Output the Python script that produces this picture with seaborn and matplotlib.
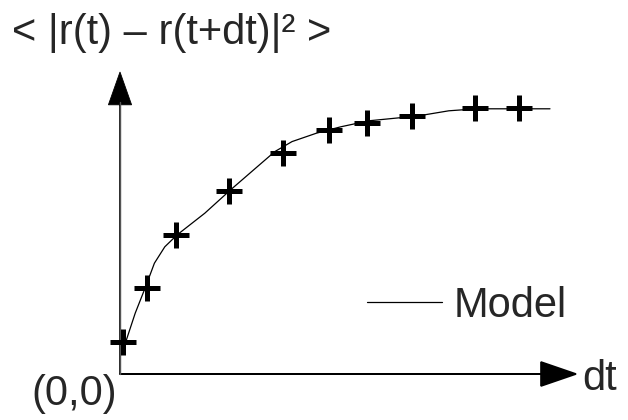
import numpy as np
import pandas as pd
import matplotlib
matplotlib.use("Agg")
import matplotlib.pyplot as plt
import seaborn as sns

obs_dt = [0.08, 0.68, 1.40, 2.72, 4.08, 5.22, 6.18, 7.30, 8.88, 9.98]
obs_msd = [0.80, 2.15, 3.48, 4.58, 5.52, 6.10, 6.28, 6.45, 6.65, 6.65]

model_dt = [0.05, 0.38, 0.64, 0.86, 1.12, 1.43, 2.12, 2.76, 3.43, 3.87,
            4.30, 4.91, 5.52, 6.22, 7.44, 8.22, 8.92, 10.75]
model_msd = [0.52, 1.52, 2.18, 2.77, 3.18, 3.48, 4.02, 4.60, 5.18, 5.56,
             5.81, 6.02, 6.18, 6.33, 6.45, 6.58, 6.63, 6.63]

W, H = 628, 420

def px(x, y):
    # pixel position -> figure fraction
    return x / W, 1 - y / H

sns.set_style("white")
plt.rcParams['font.family'] = ['Liberation Sans', 'DejaVu Sans']

fig = plt.figure(figsize=(W / 100, H / 100), dpi=100)
ax = fig.add_axes([0, 0, 1, 1])
# 40 px per data unit, origin at pixel (120, 374)
ax.set_xlim(-120 / 40, (W - 120) / 40)
ax.set_ylim(-(H - 374) / 40, 374 / 40)
ax.axis("off")

# axes with arrow heads
ax.arrow(0, 0, 11.4, 0, head_width=0.6, head_length=0.875,
         length_includes_head=True, fc="black", ec="black", lw=1.2)
ax.arrow(0, 0, 0, 7.55, head_width=0.58, head_length=0.82,
         length_includes_head=True, fc="black", ec="black", lw=0.6)
ax.plot([0, 0], [0, 6.8], color="#555555", lw=1.0)

model = pd.DataFrame({"dt": model_dt, "msd": model_msd})
obs = pd.DataFrame({"dt": obs_dt, "msd": obs_msd})

sns.lineplot(data=model, x="dt", y="msd", color="black", lw=0.9,
             sort=False, label="Model", ax=ax)
sns.scatterplot(data=obs, x="dt", y="msd", marker="+", s=330,
                color="black", linewidth=3.6, ax=ax, zorder=3)

leg = ax.legend(loc="center left", bbox_to_anchor=px(367, 306),
                bbox_transform=fig.transFigure, frameon=False,
                fontsize=30, handlelength=1.8, handletextpad=0.28,
                borderpad=0, borderaxespad=0)

fig.text(*px(12, 44), "< |r(t) – r(t+dt)|² >", fontsize=30,
         va="baseline", ha="left")
fig.text(*px(31, 405), "(0,0)", fontsize=30, va="baseline", ha="left")
fig.text(*px(582, 390), "dt", fontsize=30, va="baseline", ha="left")

fig.savefig("out.png", dpi=100)
